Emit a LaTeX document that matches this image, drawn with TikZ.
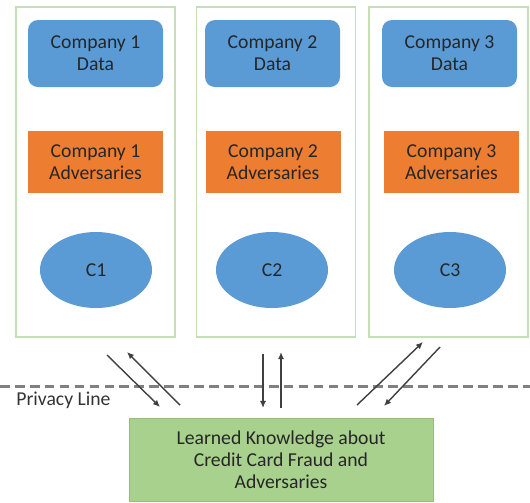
\documentclass[tikz,border=0pt]{standalone}
\usepackage{fontspec}
\setmainfont{Carlito}
\usetikzlibrary{shapes.geometric,arrows.meta}
\definecolor{dataBlue}{HTML}{5B9BD5}
\definecolor{advOrange}{HTML}{ED7D31}
\definecolor{panelGreen}{HTML}{C5E0B4}
\definecolor{knowGreen}{HTML}{A9D18E}
\tikzset{font=\fontsize{11.2}{12.6}\selectfont}
\tikzset{
	panel/.style={draw=panelGreen, line width=1pt, minimum width=3.18cm, minimum height=6.6cm},
	databox/.style={fill=dataBlue, rounded corners=0.2cm, minimum width=2.7cm, minimum height=1.34cm, text=black!85, align=center},
	advbox/.style={fill=advOrange, minimum width=2.7cm, minimum height=1.24cm, text=black!85, align=center},
	client/.style={ellipse, fill=dataBlue, minimum width=2.24cm, minimum height=1.52cm, text=black!85},
	flow/.style={draw=black!75, line width=0.8pt, -{Latex[length=4pt,width=3.5pt]}}
}

\begin{document}
\begin{tikzpicture}
	\useasboundingbox (0,0) rectangle (10.6,-10.04);

	% company panels
	\node[panel] (p1) at (1.91, -3.44) {};
	\node[panel] (p2) at (5.52, -3.44) {};
	\node[panel] (p3) at (8.97, -3.44) {};

	\node[databox] (data1) at (1.91, -1.07) {Company 1\\Data};
	\node[databox] (data2) at (5.45, -1.07) {Company 2\\Data};
	\node[databox] (data3) at (8.99, -1.07) {Company 3\\Data};

	\node[advbox] (adv1) at (1.91, -3.24) {Company 1\\Adversaries};
	\node[advbox] (adv2) at (5.46, -3.24) {Company 2\\Adversaries};
	\node[advbox] (adv3) at (9.03, -3.24) {Company 3\\Adversaries};

	\node[client] (c1) at (1.92, -5.4) {C1};
	\node[client] (c2) at (5.44, -5.4) {C2};
	\node[client] (c3) at (9.0, -5.4) {C3};

	% shared knowledge
	\node[fill=knowGreen, draw=knowGreen!90!black, line width=0.4pt, minimum width=6.08cm, minimum height=1.66cm, align=center, text=black!85] (know) at (5.62, -9.19)
		{Learned Knowledge about\\Credit Card Fraud and\\Adversaries};

	% privacy line
	\coordinate (pl0) at (0, -7.72);
	\coordinate (pl1) at (10.6, -7.72);
	\draw[black!50, line width=1.7pt, dash pattern=on 5.5pt off 3pt] (pl0) -- (pl1);
	\node[anchor=west, inner sep=0pt, text=black!80] (plabel) at (0.32, -8.0) {Privacy Line};

	% exchange arrows
	\coordinate (a1s) at (2.14, -7.1);  \coordinate (a1e) at (3.2, -8.14);
	\coordinate (b1s) at (3.6, -8.1);   \coordinate (b1e) at (2.54, -7.04);
	\coordinate (a2s) at (5.26, -7.08); \coordinate (a2e) at (5.26, -8.16);
	\coordinate (b2s) at (5.62, -8.16); \coordinate (b2e) at (5.62, -7.04);
	\coordinate (a3s) at (7.14, -8.1);  \coordinate (a3e) at (8.46, -6.84);
	\coordinate (b3s) at (8.8, -6.94);  \coordinate (b3e) at (7.68, -8.12);

	\draw[flow] (a1s) -- (a1e);
	\draw[flow] (b1s) -- (b1e);
	\draw[flow] (a2s) -- (a2e);
	\draw[flow] (b2s) -- (b2e);
	\draw[flow] (a3s) -- (a3e);
	\draw[flow] (b3s) -- (b3e);
\end{tikzpicture}
\end{document}
